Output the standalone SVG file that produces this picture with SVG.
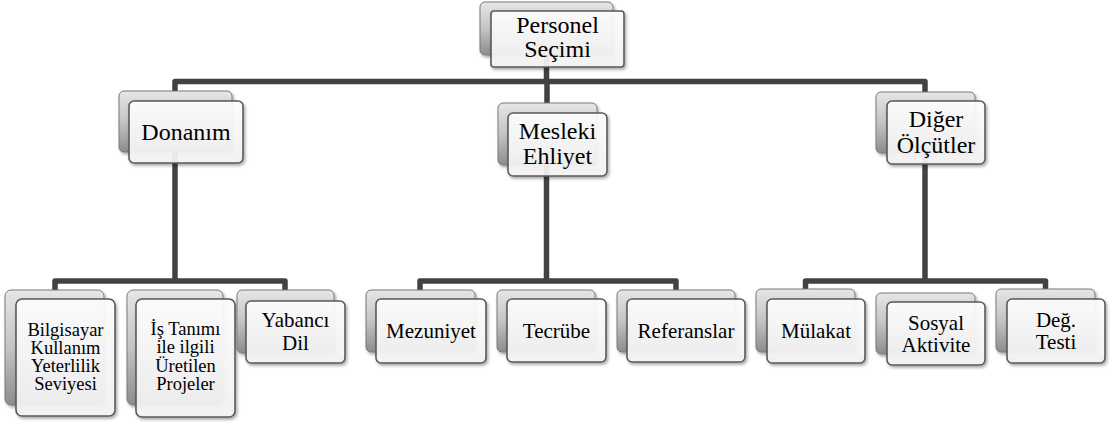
<svg xmlns="http://www.w3.org/2000/svg" width="1120" height="424" viewBox="0 0 1120 424">
<defs>
<linearGradient id="gBack" x1="0" y1="0" x2="0" y2="1">
<stop offset="0" stop-color="#e6e6e6"/>
<stop offset="0.5" stop-color="#c4c4c4"/>
<stop offset="1" stop-color="#8c8c8c"/>
</linearGradient>
<linearGradient id="gFront" x1="0" y1="0" x2="0" y2="1">
<stop offset="0" stop-color="#ffffff" stop-opacity="0.92"/>
<stop offset="1" stop-color="#f4f4f4" stop-opacity="0.92"/>
</linearGradient>
<filter id="sh" x="-20%" y="-20%" width="140%" height="150%">
<feDropShadow dx="1.5" dy="2" stdDeviation="1.6" flood-color="#000" flood-opacity="0.35"/>
</filter>
</defs>
<style>
.back{fill:url(#gBack);stroke:#7a7a7a;stroke-width:1;filter:url(#sh)}
.front{fill:url(#gFront);stroke:#5a5a5a;stroke-width:1.6;filter:url(#sh)}
.conn{fill:none;stroke:#424242;stroke-width:5.5;stroke-linejoin:round}
.lbl{fill:#000;text-anchor:middle}
.t24{font-size:24px}
.t21{font-size:21px}
.t19{font-size:18.5px}
</style>
<rect width="1120" height="424" fill="#fff"/>
<g id="connectors">
<path class="conn" d="M546.5 20 V81.5"/>
<path class="conn" d="M175 96 V81.5 H925 V96"/>
<path class="conn" d="M547 81.5 V108"/>
<path class="conn" d="M175 150 V281"/>
<path class="conn" d="M55 294 V281 H285 V294"/>
<path class="conn" d="M546.5 160 V281"/>
<path class="conn" d="M420 294 V281 H676 V294"/>
<path class="conn" d="M925 150 V281"/>
<path class="conn" d="M805.5 294 V281 H1045.5 V294"/>
</g>
<g font-family="'Liberation Serif', 'Times New Roman', Tinos, 'DejaVu Serif', serif">
<g id="n-personel">
<rect class="back" x="480" y="2" width="133" height="53" rx="5"/>
<rect class="front" x="491" y="11" width="133" height="56" rx="3"/>
<text class="lbl t24" x="557.5" y="33">Personel</text>
<text class="lbl t24" x="557.5" y="57">Seçimi</text>
</g>
<g id="n-donanim">
<rect class="back" x="119" y="91" width="113" height="61" rx="5"/>
<rect class="front" x="129" y="101" width="114" height="62" rx="5"/>
<text class="lbl t24" x="186" y="140">Donanım</text>
</g>
<g id="n-mesleki">
<rect class="back" x="498" y="103" width="99" height="62" rx="5"/>
<rect class="front" x="508" y="113" width="99" height="63" rx="5"/>
<text class="lbl t24" x="557.5" y="139">Mesleki</text>
<text class="lbl t24" x="557.5" y="164">Ehliyet</text>
</g>
<g id="n-diger">
<rect class="back" x="876" y="92" width="99" height="61" rx="5"/>
<rect class="front" x="887" y="101" width="98" height="63" rx="5"/>
<text class="lbl t24" x="936" y="127">Diğer</text>
<text class="lbl t24" x="936" y="153">Ölçütler</text>
</g>
<g id="n-bilgisayar">
<rect class="back" x="5" y="290" width="99" height="115" rx="6"/>
<rect class="front" x="16" y="299" width="99" height="117" rx="6"/>
<text class="lbl t19" x="65.5" y="336">Bilgisayar</text>
<text class="lbl t19" x="65.5" y="354">Kullanım</text>
<text class="lbl t19" x="65.5" y="372">Yeterlilik</text>
<text class="lbl t19" x="65.5" y="390">Seviyesi</text>
</g>
<g id="n-is">
<rect class="back" x="127" y="290" width="96" height="115" rx="6"/>
<rect class="front" x="136" y="299" width="99" height="118" rx="6"/>
<text class="lbl t19" x="185.5" y="335">İş Tanımı</text>
<text class="lbl t19" x="185.5" y="353">ile ilgili</text>
<text class="lbl t19" x="185.5" y="372">Üretilen</text>
<text class="lbl t19" x="185.5" y="390">Projeler</text>
</g>
<g id="n-yabanci">
<rect class="back" x="237" y="290" width="97" height="63" rx="5"/>
<rect class="front" x="246" y="301" width="99" height="62" rx="5"/>
<text class="lbl t21" x="295.5" y="327">Yabancı</text>
<text class="lbl t21" x="295.5" y="350">Dil</text>
</g>
<g id="n-mezuniyet">
<rect class="back" x="366" y="290" width="109" height="62" rx="5"/>
<rect class="front" x="376" y="299" width="110" height="64" rx="5"/>
<text class="lbl t21" x="431" y="338">Mezuniyet</text>
</g>
<g id="n-tecrube">
<rect class="back" x="497" y="290" width="98" height="62" rx="5"/>
<rect class="front" x="507" y="299" width="99" height="63" rx="5"/>
<text class="lbl t21" x="556.5" y="338">Tecrübe</text>
</g>
<g id="n-referanslar">
<rect class="back" x="617" y="290" width="118" height="62" rx="5"/>
<rect class="front" x="627" y="299" width="118" height="63" rx="5"/>
<text class="lbl t21" x="686" y="338">Referanslar</text>
</g>
<g id="n-mulakat">
<rect class="back" x="756" y="289" width="99" height="63" rx="5"/>
<rect class="front" x="767" y="299" width="98" height="64" rx="5"/>
<text class="lbl t21" x="816" y="338">Mülakat</text>
</g>
<g id="n-sosyal">
<rect class="back" x="876" y="293" width="99" height="61" rx="5"/>
<rect class="front" x="887" y="302" width="98" height="63" rx="5"/>
<text class="lbl t21" x="936" y="330">Sosyal</text>
<text class="lbl t21" x="936" y="352">Aktivite</text>
</g>
<g id="n-deg">
<rect class="back" x="996" y="289" width="99" height="63" rx="5"/>
<rect class="front" x="1007" y="299" width="98" height="64" rx="5"/>
<text class="lbl t21" x="1056" y="327">Değ.</text>
<text class="lbl t21" x="1056" y="349">Testi</text>
</g>
</g>
</svg>
